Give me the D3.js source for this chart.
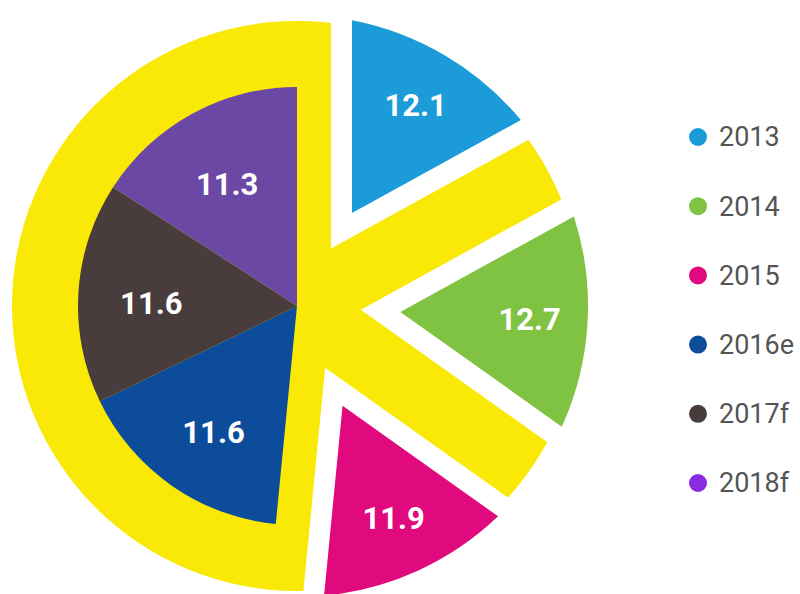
<!DOCTYPE html>
<html>
<head>
<meta charset="utf-8">
<script src="https://cdn.jsdelivr.net/npm/d3@7.7.0/dist/d3.min.js"></script>
<style>
  html, body { margin: 0; padding: 0; background: #fff; }
  svg { display: block; }
</style>
</head>
<body>
<div id="chart"></div>
<script>
// data
const years = ["2013", "2014", "2015", "2016e", "2017f", "2018f"];
const values = [12.1, 12.7, 11.9, 11.6, 11.6, 11.3];
const sliceColors = ["#1b9cd8", "#80c241", "#e0097e", "#0c4c9b", "#483c3c", "#6b48a4"];
const legendColors = ["#1b9cd8", "#80c241", "#e0097e", "#0c4c9b", "#483c3c", "#8a2be2"];

const width = 800;
const height = 594;
const cx = 297, cy = 306;

// the first three slices sit in the cut-out "K" part
const outerCount = 3;
const innerRadius = 219;   // left slices
const outerRadius = 291;   // cut-out slices
const yellowRadius = 285;
const haloOffset = 34;     // yellow band half width
const sliceOffset = 55;    // where the coloured slice starts

const svg = d3.select("#chart")
  .append("svg")
  .attr("width", width)
  .attr("height", height);

const g = svg.append("g").attr("transform", `translate(${cx}, ${cy})`);

const pie = d3.pie().sort(null).value((d) => d.value);
const arcs = pie(years.map((y, i) => ({ year: y, value: values[i], i })));

// apex distance of a slice whose edges are pushed in by `off`
const apex = (d, off) => off / Math.sin((d.endAngle - d.startAngle) / 2);

// arc with parallel, inset edges
const insetArc = (off, r) => {
  const pr = 100;
  return d3.arc()
    .innerRadius((d) => apex(d, off))
    .outerRadius(r)
    .padRadius(pr)
    .padAngle(2 * Math.asin(off / pr));
};

// yellow background disc
g.append("circle")
  .attr("r", yellowRadius)
  .attr("fill", "#fae806");

const outer = arcs.filter((d) => d.data.i < outerCount);
const inner = arcs.filter((d) => d.data.i >= outerCount);

// white gaps round the cut-out slices
g.selectAll(".halo")
  .data(outer)
  .enter()
  .append("path")
  .attr("class", "halo")
  .attr("d", insetArc(haloOffset, outerRadius + 12))
  .attr("fill", "#fff");

// cut-out slices
g.selectAll(".outer")
  .data(outer)
  .enter()
  .append("path")
  .attr("class", "outer")
  .attr("d", insetArc(sliceOffset, outerRadius))
  .attr("fill", (d) => sliceColors[d.data.i]);

// plain slices on the left
const arc = d3.arc().innerRadius(0).outerRadius(innerRadius);
g.selectAll(".inner")
  .data(inner)
  .enter()
  .append("path")
  .attr("class", "inner")
  .attr("d", arc)
  .attr("fill", (d) => sliceColors[d.data.i]);

// value labels
const labelOuter = d3.arc().innerRadius(233).outerRadius(233);
const labelInner = d3.arc().innerRadius(146).outerRadius(146);

g.selectAll(".label")
  .data(arcs)
  .enter()
  .append("text")
  .attr("class", "label")
  .attr("transform", (d) => {
    const outerSlice = d.data.i < outerCount;
    const c = outerSlice ? labelOuter.centroid(d) : labelInner.centroid(d);
    return `translate(${c[0]}, ${c[1] + (outerSlice ? 0 : 6)})`;
  })
  .attr("dy", "0.35em")
  .attr("text-anchor", "middle")
  .style("font-family", "Roboto, 'Noto Sans', sans-serif")
  .style("font-weight", 700)
  .style("font-size", "31px")
  .attr("fill", "#fff")
  .text((d) => d.data.value.toFixed(1));

// legend
const legendY = d3.scalePoint().domain(years).range([137, 483]);

const legend = svg.append("g")
  .selectAll(".legend")
  .data(years)
  .enter()
  .append("g")
  .attr("class", "legend")
  .attr("transform", (d) => `translate(698, ${legendY(d)})`);

legend.append("circle")
  .attr("r", 9)
  .attr("fill", (d, i) => legendColors[i]);

legend.append("text")
  .attr("x", 21)
  .attr("dy", "0.35em")
  .style("font-family", "Roboto, 'Noto Sans', sans-serif")
  .style("font-size", "27px")
  .attr("fill", "#555")
  .text((d) => d);
</script>
</body>
</html>
